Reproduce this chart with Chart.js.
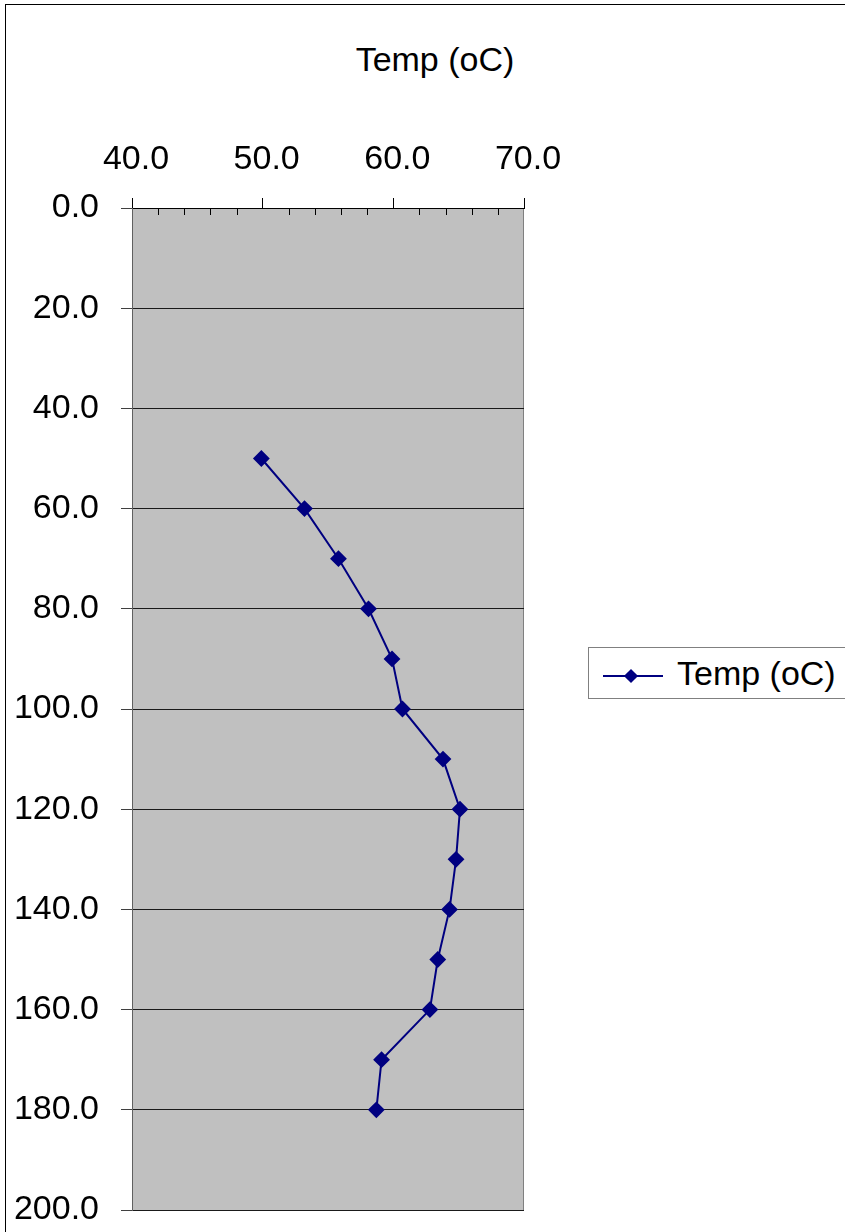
<!DOCTYPE html>
<html>
<head>
<meta charset="utf-8">
<script src="https://cdn.jsdelivr.net/npm/chart.js@4/dist/chart.umd.min.js"></script>
<style>
  body { margin: 0; background: #fff; font-family: "Liberation Sans", Arial, sans-serif; }
  #wrap { position: relative; width: 845px; height: 1232px; overflow: hidden; }
  #frame { position: absolute; left: 5px; top: 4px; width: 900px; height: 1300px; border: 1px solid #000; }
  #title { position: absolute; left: 0; width: 870px; top: 40px; text-align: center; font-size: 34px; color: #000; }
  #legend { position: absolute; left: 588px; top: 647px; width: 300px; height: 50px; border: 1px solid #808080; background: #fff; }
  #legend .line { position: absolute; left: 14px; top: 27px; width: 60px; height: 2px; background: #000080; }
  #legend .mark { position: absolute; left: 37px; top: 23px; width: 10px; height: 10px; background: #000080; transform: rotate(45deg); }
  #legend .txt { position: absolute; left: 88px; top: 6px; font-size: 34px; color: #000; }
  canvas { position: absolute; left: 0; top: 0; }
</style>
</head>
<body>
<div id="wrap">
  <div id="frame"></div>
  <div id="title">Temp (oC)</div>
  <canvas id="chart" width="845" height="1232"></canvas>
  <div id="legend"><div class="line"></div><div class="mark"></div><div class="txt">Temp (oC)</div></div>
</div>
<script>
// Data
const seriesName = 'Temp (oC)';
const depths = [50, 60, 70, 80, 90, 100, 110, 120, 130, 140, 150, 160, 170, 180];
const temps = [49.9, 53.2, 55.8, 58.1, 59.9, 60.7, 63.8, 65.1, 64.8, 64.3, 63.4, 62.8, 59.1, 58.7];

// Axis ranges
const tempMin = 40, tempMax = 70, tempStep = 10, tempMinorStep = 2;
const depthMin = 0, depthMax = 200, depthStep = 20;

// Gray plot area with a thin border
const plotBackground = {
  id: 'plotBackground',
  beforeDraw(chart) {
    const { ctx, chartArea: a } = chart;
    ctx.save();
    ctx.fillStyle = '#c0c0c0';
    ctx.fillRect(a.left, a.top, a.right - a.left, a.bottom - a.top);
    ctx.strokeStyle = '#808080';
    ctx.lineWidth = 1;
    ctx.strokeRect(a.left + 0.5, a.top + 0.5, a.right - a.left - 1, a.bottom - a.top);
    ctx.restore();
  }
};

// Minor tick marks on the top axis, pointing into the plot
const minorTicks = {
  id: 'minorTicks',
  afterDatasetsDraw(chart) {
    const { ctx, chartArea: a } = chart;
    const xs = chart.scales.x;
    ctx.save();
    ctx.strokeStyle = '#000';
    ctx.lineWidth = 1;
    for (let v = tempMin; v <= tempMax; v += tempMinorStep) {
      if (v % tempStep === 0) continue;
      const px = Math.round(xs.getPixelForValue(v)) + 0.5;
      ctx.beginPath();
      ctx.moveTo(px, a.top);
      ctx.lineTo(px, a.top + 7);
      ctx.stroke();
    }
    ctx.restore();
  }
};

const tickFont = { family: '"Liberation Sans", Arial, sans-serif', size: 34 };

new Chart(document.getElementById('chart'), {
  type: 'scatter',
  data: {
    datasets: [{
      label: seriesName,
      data: depths.map((d, i) => ({ x: temps[i], y: d })),
      showLine: true,
      borderColor: '#000080',
      backgroundColor: '#000080',
      borderWidth: 2,
      pointStyle: 'rectRot',
      pointRadius: 7,
      pointHoverRadius: 7
    }]
  },
  options: {
    responsive: false,
    animation: false,
    layout: { padding: { left: 0, top: 0, right: 321, bottom: 22 } },
    plugins: {
      legend: { display: false },
      title: { display: false },
      tooltip: { enabled: false }
    },
    scales: {
      x: {
        type: 'linear',
        position: 'top',
        min: tempMin,
        max: tempMax,
        afterFit(scale) { scale.height = 208; scale.paddingLeft = 0; scale.paddingRight = 0; },
        ticks: {
          stepSize: tempStep,
          callback: v => v.toFixed(1),
          font: tickFont,
          color: '#000',
          padding: 18,
          labelOffset: 4,
          maxRotation: 0
        },
        grid: { drawOnChartArea: false, tickLength: 10, color: '#000' },
        border: { color: '#000' }
      },
      y: {
        type: 'linear',
        reverse: true,
        min: depthMin,
        max: depthMax,
        afterFit(scale) { scale.width = 132; scale.paddingTop = 0; scale.paddingBottom = 0; },
        ticks: {
          stepSize: depthStep,
          callback: v => v.toFixed(1),
          font: tickFont,
          color: '#000',
          padding: 22
        },
        grid: { color: '#1a1a1a', tickLength: 11, tickColor: '#404040' },
        border: { color: '#606060' }
      }
    }
  },
  plugins: [plotBackground, minorTicks]
});
</script>
</body>
</html>
